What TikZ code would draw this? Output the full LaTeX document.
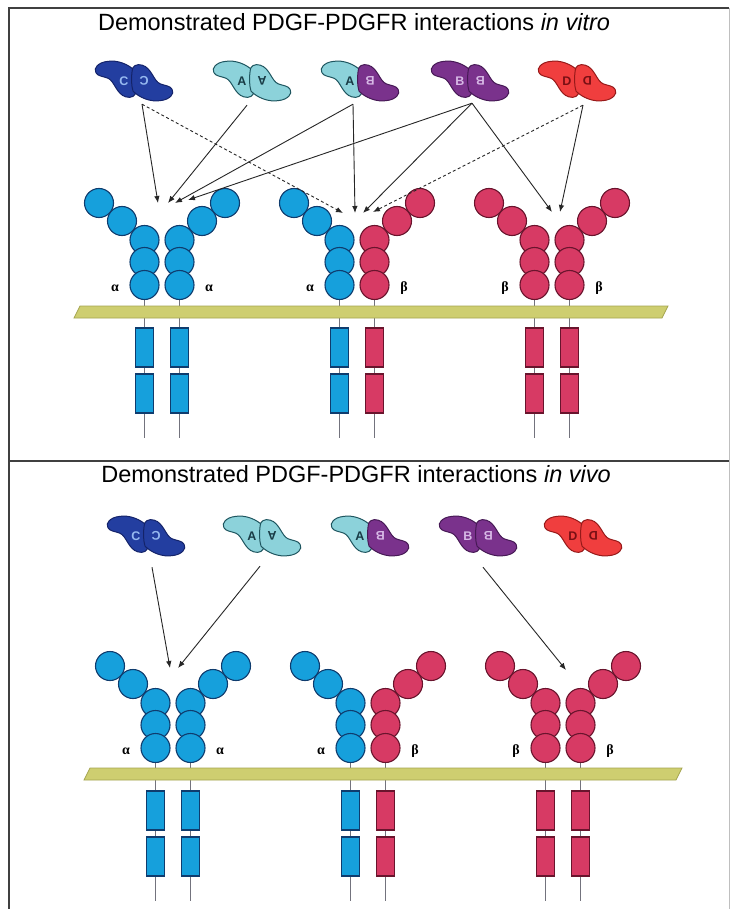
\documentclass[tikz,border=0pt]{standalone}
\usepackage{fontspec}
\setmainfont{Liberation Sans}
\newfontfamily\greekfont{Liberation Serif}
\usetikzlibrary{arrows.meta}

\definecolor{ligC}{RGB}{35,62,160}
\definecolor{ligCline}{RGB}{20,35,105}
\definecolor{ligCtext}{RGB}{150,185,240}
\definecolor{ligA}{RGB}{140,210,218}
\definecolor{ligAline}{RGB}{30,85,95}
\definecolor{ligAtext}{RGB}{25,60,70}
\definecolor{ligB}{RGB}{122,50,140}
\definecolor{ligBline}{RGB}{70,25,85}
\definecolor{ligBtext}{RGB}{215,185,230}
\definecolor{ligD}{RGB}{240,62,62}
\definecolor{ligDline}{RGB}{150,25,25}
\definecolor{ligDtext}{RGB}{120,15,20}
\definecolor{chainA}{RGB}{22,160,220}
\definecolor{chainAline}{RGB}{15,60,110}
\definecolor{chainB}{RGB}{215,58,100}
\definecolor{chainBline}{RGB}{105,20,45}
\definecolor{membrane}{RGB}{206,206,112}
\definecolor{membraneline}{RGB}{165,165,80}
\definecolor{stemgray}{RGB}{115,115,125}

\tikzset{
  monoC/.style={fill=ligC, draw=ligCline},
  monoA/.style={fill=ligA, draw=ligAline},
  monoB/.style={fill=ligB, draw=ligBline},
  monoD/.style={fill=ligD, draw=ligDline},
  letter/.style={font=\bfseries\fontsize{12.5}{12.5}\selectfont, inner sep=0pt},
  bead/.style={circle, minimum size=29pt, inner sep=0pt, line width=1.1pt},
  kinase/.style={rectangle, minimum width=18pt, minimum height=39pt, inner sep=0pt, line width=1.1pt},
  achain/.style={fill=chainA, draw=chainAline},
  bchain/.style={fill=chainB, draw=chainBline},
  stem/.style={draw=stemgray, line width=1.5pt},
  bind/.style={-{Latex[length=7pt,width=5.5pt]}, line width=0.9pt, draw=black!85},
  maybe/.style={bind, dash pattern=on 3pt off 2.5pt},
  chainlabel/.style={font=\greekfont\bfseries\fontsize{14}{14}\selectfont, inner sep=0pt},
  paneltitle/.style={font=\fontsize{23.5}{23.5}\selectfont, inner sep=0pt},
  frame/.style={draw=black!75, line width=2pt},
}

% one PDGF chain, hooked lobe to the upper left
\newcommand{\monomer}{(1,-11) .. controls (-6,-18) and (-18,-23) .. (-29,-21)
  .. controls (-38,-20) and (-44,-14) .. (-41,-9)
  .. controls (-39,-5) and (-33,-5) .. (-28,-3)
  .. controls (-21,0) and (-19,14) .. (-9,17)
  .. controls (-3,19) and (2,16) .. (2,11)
  .. controls (3,4) and (3,-5) .. (1,-11) -- cycle}

% dimer: name, centre, left chain, right chain
\newcommand{\ligand}[4]{%
  \begin{scope}[shift={#2}, scale=0.93]
    \draw[mono#3, line width=1pt] \monomer;
    \draw[mono#4, line width=1pt, rotate=180] \monomer;
    \node[letter, text=lig#3text] (#1-l) at (-11,0) {#3};
    \node[letter, text=lig#4text, rotate=180] (#1-r) at (11,0) {#4};
  \end{scope}
  \node[inner sep=0pt, minimum width=80pt, minimum height=44pt] (#1) at #2 {};
}

% receptor dimer: name, centre x, top y, left chain, right chain, labels
\newcommand{\receptor}[7]{%
  \begin{scope}[shift={(#2,#3)}]
    \draw[stem] (-17.5,82) -- (-17.5,235);
    \draw[stem] (17.5,82) -- (17.5,235);
    \foreach \x/\y [count=\i] in {-63/0,-40/18,-17.5/37,-17.5/59,-17.5/82}
      \node[bead,#4] (#1-l\i) at (\x,\y) {};
    \foreach \x/\y [count=\i] in {63/0,40/18,17.5/37,17.5/59,17.5/82}
      \node[bead,#5] (#1-r\i) at (\x,\y) {};
    \node[kinase,#4] (#1-lk1) at (-17.5,144.5) {};
    \node[kinase,#4] (#1-lk2) at (-17.5,190.5) {};
    \node[kinase,#5] (#1-rk1) at (17.5,144.5) {};
    \node[kinase,#5] (#1-rk2) at (17.5,190.5) {};
    \node[chainlabel] (#1-la) at (-47,85) {#6};
    \node[chainlabel] (#1-ra) at (47,85) {#7};
    \coordinate (#1) at (0,7);
  \end{scope}
}

\begin{document}
\begin{tikzpicture}[x=1pt, y=-1pt]
\useasboundingbox (0,0) rectangle (731,909);
\fill[white] (0,0) rectangle (731,909);
% frame and divider
\draw[frame] (9,909) -- (9,8) -- (729,8);
\draw[black!25, line width=1pt] (729,8) -- (729,909);
\draw[frame] (9,461) -- (729,461);

% ---- in vitro ----
\node[paneltitle] (vitrotitle) at (354,22) {Demonstrated PDGF-PDGFR interactions \textit{in vitro}};
\ligand{vitroC}{(134,81)}{C}{C}
\ligand{vitroA}{(252,81)}{A}{A}
\ligand{vitroAB}{(360,81)}{A}{B}
\ligand{vitroB}{(470,81)}{B}{B}
\ligand{vitroD}{(577,81)}{D}{D}
\receptor{vitroaa}{162}{203}{achain}{achain}{α}{α}
\receptor{vitroab}{357}{203}{achain}{bchain}{α}{β}
\receptor{vitrobb}{552}{203}{bchain}{bchain}{β}{β}
\filldraw[fill=membrane, draw=membraneline, line width=0.8pt]
  (80,306) -- (668,306) -- (662,318) -- (74,318) -- cycle;

\draw[bind] ([shift={(8,1)}]vitroC.south) -- ([shift={(-4,-7)}]vitroaa);
\draw[maybe] ([shift={(8,1)}]vitroC.south) -- ([shift={(-14,3)}]vitroab);
\draw[bind] ([shift={(-5,2)}]vitroA.south) -- ([shift={(6,-7)}]vitroaa);
\draw[bind] ([shift={(-7,1)}]vitroAB.south) -- ([shift={(13,-7)}]vitroaa);
\draw[bind] ([shift={(-7,1)}]vitroAB.south) -- ([shift={(-2,3)}]vitroab);
\draw[bind] ([shift={(2,0)}]vitroB.south) -- ([shift={(26,-10)}]vitroaa);
\draw[bind] ([shift={(2,0)}]vitroB.south) -- ([shift={(6,3)}]vitroab);
\draw[bind] ([shift={(2,0)}]vitroB.south) -- ([shift={(0,2)}]vitrobb);
\draw[maybe] ([shift={(6,2)}]vitroD.south) -- ([shift={(16,2)}]vitroab);
\draw[bind] ([shift={(6,2)}]vitroD.south) -- ([shift={(8,2)}]vitrobb);

% ---- in vivo ----
\node[paneltitle] (vivotitle) at (356,474) {Demonstrated PDGF-PDGFR interactions \textit{in vivo}};
\ligand{vivoC}{(146,536)}{C}{C}
\ligand{vivoA}{(262,536)}{A}{A}
\ligand{vivoAB}{(370,536)}{A}{B}
\ligand{vivoB}{(478,536)}{B}{B}
\ligand{vivoD}{(583,536)}{D}{D}
\receptor{vivoaa}{173}{666}{achain}{achain}{α}{α}
\receptor{vivoab}{368}{666}{achain}{bchain}{α}{β}
\receptor{vivobb}{563}{666}{bchain}{bchain}{β}{β}
\filldraw[fill=membrane, draw=membraneline, line width=0.8pt]
  (90,768) -- (682,768) -- (676,780) -- (84,780) -- cycle;

\draw[bind] ([shift={(6,9)}]vivoC.south) -- ([shift={(-3,-5)}]vivoaa);
\draw[bind] ([shift={(-2,8)}]vivoA.south) -- ([shift={(5,-5)}]vivoaa);
\draw[bind] ([shift={(5,9)}]vivoB.south) -- ([shift={(3,-3)}]vivobb);
\end{tikzpicture}
\end{document}
